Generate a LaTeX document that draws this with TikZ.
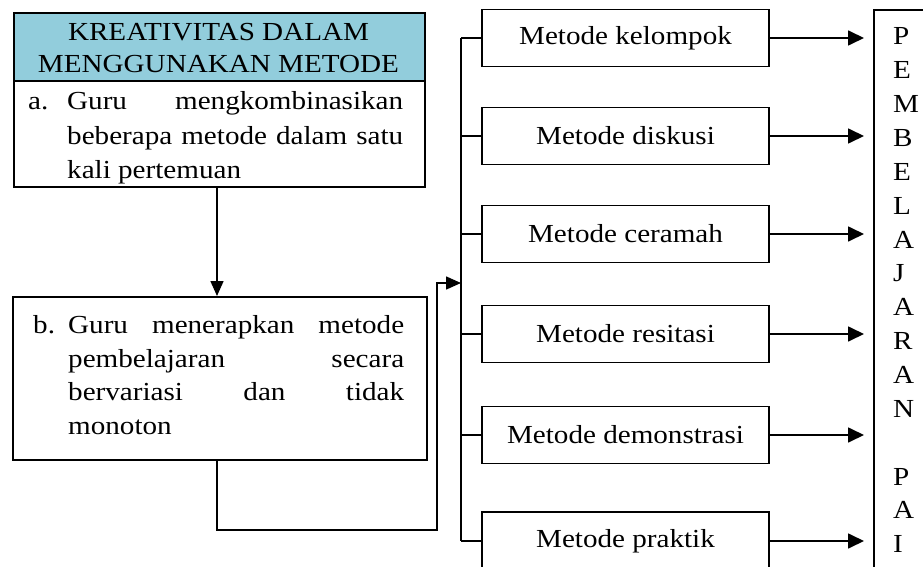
\documentclass[tikz,border=0pt]{standalone}
\usepackage{fontspec}
\setmainfont[FakeStretch=1.12]{Liberation Serif}
\usetikzlibrary{arrows.meta}
\definecolor{headblue}{HTML}{92CDDC}
\tikzset{
  boxline/.style={draw=black, line width=1.6pt},
  mbox/.style={boxline, minimum width=287pt, minimum height=57pt, inner sep=0pt, font=\fontsize{26}{34}\selectfont},
  txt/.style={inner sep=0pt, anchor=base west, font=\fontsize{26}{34}\selectfont},
  ctxt/.style={inner sep=0pt, anchor=base, font=\fontsize{26}{34}\selectfont},
  conn/.style={line width=1.5pt},
  arr/.style={line width=1.6pt, -{Triangle[length=15pt,width=13pt]}},
  arrbig/.style={line width=1.7pt, -{Triangle[length=16pt,width=15pt]}},
}
\begin{document}
\begin{tikzpicture}[x=1pt,y=-1pt]
\useasboundingbox (0,0) rectangle (923,567);
\clip (0,0) rectangle (923,567);
\fill[white] (0,0) rectangle (923,567);

% box a
\node[boxline, anchor=north west, minimum width=411pt, minimum height=174pt, inner sep=0pt] (a) at (13,12) {};
\node[boxline, fill=headblue, anchor=north west, minimum width=411pt, minimum height=68pt, inner sep=0pt] (ah) at (13,12) {};
\node[ctxt] (ah1) at (218.5,41) {KREATIVITAS DALAM};
\node[ctxt] (ah2) at (218.5,73) {MENGGUNAKAN METODE};
\node[txt] (alab) at (28,110) {a.};
\node[txt] (a1) at (67,110) {\hbox to 336pt{Guru\hfill mengkombinasikan}};
\node[txt] (a2) at (67,144) {\hbox to 336pt{beberapa\hfill metode\hfill dalam\hfill satu}};
\node[txt] (a3) at (67,178) {kali pertemuan};

% box b
\node[boxline, anchor=north west, minimum width=414pt, minimum height=163pt, inner sep=0pt] (b) at (12,296) {};
\node[txt] (blab) at (33,333) {b.};
\node[txt] (b1) at (68,333) {\hbox to 336pt{Guru\hfill menerapkan\hfill metode}};
\node[txt] (b2) at (68,367) {\hbox to 336pt{pembelajaran\hfill secara}};
\node[txt] (b3) at (68,400) {\hbox to 336pt{bervariasi\hfill dan\hfill tidak}};
\node[txt] (b4) at (68,434) {monoton};

% method boxes
\node[mbox] (m1) at (625.5,38) {Metode kelompok};
\node[mbox] (m2) at (625.5,136) {Metode diskusi};
\node[mbox] (m3) at (625.5,234) {Metode ceramah};
\node[mbox] (m4) at (625.5,334) {Metode resitasi};
\node[mbox] (m5) at (625.5,435) {Metode demonstrasi};
\node[mbox, minimum height=58pt] (m6) at (625.5,541) {Metode praktik};

% right box
\node[boxline, anchor=north west, minimum width=80pt, minimum height=575pt, inner sep=0pt] (pai) at (873,9) {};
\foreach \l [count=\k from 0] in {P,E,M,B,E,L,A,J,A,R,A,N,{},P,A,I}{
  \node[txt] (r\k) at (893,{45+33.85*\k}) {\l};
}

% bus
\coordinate (bus) at (461,283);
\draw[conn] (m1.west -| bus) -- (m6.west -| bus);
\foreach \m in {m1,m2,m3,m4,m5,m6}{
  \draw[conn] (\m.west -| bus) -- (\m.west);
  \draw[arrbig, shorten >=9pt] (\m.east) -- (\m.east -| pai.west);
}

% connectors
\draw[arr] (a.south -| 217,0) -- (b.north -| 217,0);
\draw[arr] (b.south -| 217,0) -- (217,530) -| ([xshift=-24pt]bus) -- (bus);
\end{tikzpicture}
\end{document}
